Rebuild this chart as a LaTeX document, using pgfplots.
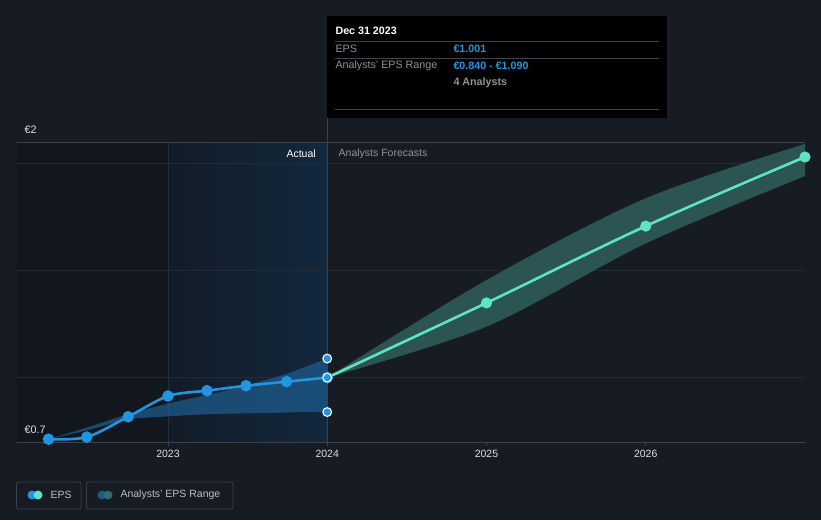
\documentclass[border=0pt]{standalone}
\usepackage{pgfplots}
\pgfplotsset{compat=1.18}
\usepgfplotslibrary{fillbetween}
\usepackage{fontspec}
\setmainfont{Liberation Sans}
\definecolor{bg}{HTML}{161B24}
\definecolor{pastc}{HTML}{12161D}
\definecolor{blueL}{HTML}{131C28}
\definecolor{blueR}{HTML}{12283D}
\definecolor{gridc}{HTML}{252B35}
\definecolor{axisc}{HTML}{3D434C}
\definecolor{tickc}{HTML}{DDE0E4}
\definecolor{epsblue}{HTML}{2394DF}
\definecolor{aqua}{HTML}{5DE4C7}
\definecolor{bandblue}{HTML}{1E5A8A}
\definecolor{bandaqua}{HTML}{2F5B58}
\definecolor{graytxt}{HTML}{8D939B}
\definecolor{hoverc}{HTML}{35424F}
\definecolor{vline}{HTML}{1A3249}
\definecolor{legb}{HTML}{3A404A}
\definecolor{legblue}{HTML}{1F5A85}
\definecolor{legaqua}{HTML}{2F6B68}
\pagecolor{bg}
\begin{document}
\begin{tikzpicture}
\path (0pt,0pt) rectangle (821pt,-520pt);
\begin{axis}[
  set layers,
  at={(17pt,-442pt)}, anchor=south west,
  width=788pt, height=300pt, scale only axis,
  xmin=2022.052, xmax=2027, ymin=0.7, ymax=2.102,
  axis x line=bottom, axis y line=none,
  x axis line style={draw=none},
  xtick={2023,2024,2025,2026},
  xticklabels={2023,2024,2025,2026},
  tick align=outside, major tick length=4pt,
  x tick style={draw=axisc, line width=0.8pt},
  x tick label style={font=\fontsize{10.5}{12}\selectfont, text=tickc, yshift=-1pt},
  clip=false,
]
\begin{pgfonlayer}{axis background}
\fill[pastc] (axis cs:2022.052,0.7) rectangle (axis cs:2024,2.102);
\shade[left color=blueL, right color=blueR] (axis cs:2023,0.7) rectangle (axis cs:2024,2.102);
\draw[vline, line width=0.8pt] (axis cs:2023,0.7) -- (axis cs:2023,2.102);
\end{pgfonlayer}
\begin{pgfonlayer}{axis grid}
\draw[gridc, line width=1pt] (axis cs:2022.052,1.0) -- (axis cs:2027,1.0);
\draw[gridc, line width=1pt] (axis cs:2022.052,1.5) -- (axis cs:2027,1.5);
\draw[gridc, line width=1pt] (axis cs:2022.052,2.0) -- (axis cs:2027,2.0);
\draw[axisc, line width=1pt] (axis cs:2022.052,2.102) -- (axis cs:2027,2.102);
\draw[axisc, line width=1pt] (axis cs:2022.052,0.7) -- (axis cs:2027,0.7);
\draw[hoverc, line width=0.8pt] (axis cs:2024,0.7) -- (axis cs:2024,2.102) -- ++(0pt,24pt);
\end{pgfonlayer}
% bands
\addplot[name path=aup, draw=none, smooth, tension=0.3] coordinates {
 (2022.25,0.713) (2022.5,0.77) (2022.75,0.83) (2023,0.88) (2023.25,0.92) (2023.5,0.966) (2023.75,1.02) (2024,1.09)};
\addplot[name path=alo, draw=none, smooth, tension=0.3] coordinates {
 (2022.25,0.713) (2022.5,0.756) (2022.75,0.806) (2023,0.82) (2023.25,0.83) (2023.5,0.834) (2023.75,0.838) (2024,0.842)};
\addplot[fill=bandblue, fill opacity=0.75] fill between[of=aup and alo];
\addplot[name path=fup, draw=none, smooth] coordinates {
 (2024,1.001) (2025,1.457) (2026,1.839) (2027,2.093)};
\addplot[name path=flo, draw=none, smooth] coordinates {
 (2024,1.001) (2025,1.239) (2026,1.628) (2027,1.943)};
\addplot[fill=bandaqua, fill opacity=0.9] fill between[of=fup and flo];
% labels
\node[anchor=east, text=white, font=\fontsize{10.5}{12}\selectfont] at (axis cs:2023.95,2.045) {Actual};
\node[anchor=west, text=graytxt, font=\fontsize{10.5}{12}\selectfont] at (axis cs:2024.05,2.045) {Analysts Forecasts};
% EPS lines
\addplot[aqua, line width=2.6pt, smooth, tension=0.6, mark=*, mark size=4.2pt, mark options={fill=aqua, draw=none}] coordinates {
 (2024,1.001) (2025,1.35) (2026,1.709) (2027,2.032)};
\addplot[epsblue, line width=2.6pt, smooth, tension=0.5, mark=*, mark size=4.4pt, mark options={fill=epsblue, draw=none}] coordinates {
 (2022.25,0.713) (2022.49,0.723) (2022.75,0.818) (2023,0.915) (2023.245,0.94) (2023.49,0.963) (2023.745,0.982) (2024,1.001)};
\addplot[only marks, mark=*, mark size=4.4pt, mark options={fill=epsblue, draw=white, line width=1.1pt}] coordinates {
 (2024,1.001) (2024,1.09) (2024,0.84)};
\end{axis}
% y labels
\node[anchor=west, text=tickc, font=\fontsize{10.8}{12}\selectfont] at (21pt,-130pt) {€2};
\node[anchor=west, text=tickc, font=\fontsize{10.8}{12}\selectfont] at (21pt,-430pt) {€0.7};
% tooltip
\fill[black] (327pt,-16pt) rectangle (667pt,-118pt);
\node[anchor=west, text=white, font=\bfseries\fontsize{10.7}{12}\selectfont] at (332pt,-31pt) {Dec 31 2023};
\draw[axisc, line width=0.7pt] (335pt,-41pt) -- (659pt,-41pt);
\draw[axisc, line width=0.7pt] (335pt,-58pt) -- (659pt,-58pt);
\draw[axisc, line width=0.7pt] (335pt,-109pt) -- (659pt,-109pt);
\node[anchor=west, text=graytxt, font=\fontsize{10.7}{12}\selectfont] at (332pt,-49pt) {EPS};
\node[anchor=west, text=epsblue, font=\bfseries\fontsize{10.7}{12}\selectfont] at (450pt,-49pt) {€1.001};
\node[anchor=west, text=graytxt, font=\fontsize{10.7}{12}\selectfont] at (332pt,-66pt) {Analysts' EPS Range};
\node[anchor=west, text=epsblue, font=\bfseries\fontsize{10.7}{12}\selectfont] at (450pt,-66pt) {€0.840 - €1.090};
\node[anchor=west, text=graytxt, font=\bfseries\fontsize{10.7}{12}\selectfont] at (450pt,-83pt) {4 Analysts};
% legend
\draw[legb, line width=0.8pt, rounded corners=2pt] (16.5pt,-482pt) rectangle (81pt,-509pt);
\fill[epsblue] (32pt,-495pt) circle (4.5pt);
\fill[aqua] (38pt,-495pt) circle (4.5pt);
\node[anchor=west, text=tickc!85!black, font=\fontsize{10.5}{12}\selectfont] at (47pt,-495pt) {EPS};
\draw[legb, line width=0.8pt, rounded corners=2pt] (86.5pt,-482pt) rectangle (233pt,-509pt);
\fill[legblue] (102pt,-495pt) circle (4.5pt);
\fill[legaqua] (108pt,-495pt) circle (4.5pt);
\node[anchor=west, text=tickc!85!black, font=\fontsize{10.5}{12}\selectfont] at (117pt,-495pt) {Analysts' EPS Range};
\end{tikzpicture}
\end{document}
